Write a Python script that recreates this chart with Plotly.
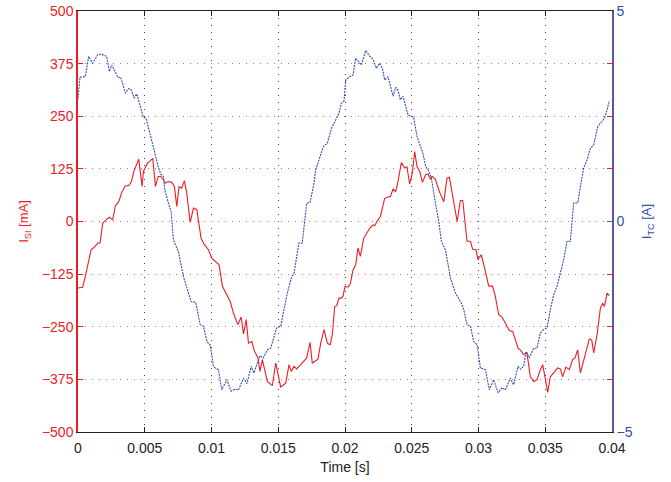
import plotly.graph_objects as go

# ---- data ----
t_si = [0, 0.00035, 0.0006, 0.00098, 0.00123, 0.00148, 0.00165, 0.00185, 0.0021, 0.00235,
        0.0026, 0.0028, 0.00305, 0.0033, 0.00355, 0.0038, 0.004, 0.0042, 0.00455, 0.0048,
        0.0049, 0.0052, 0.0056, 0.0058, 0.006, 0.0062, 0.0064,
        0.00652, 0.00677, 0.00702, 0.00722, 0.0074, 0.00757, 0.00777, 0.00797, 0.00815, 0.0084,
        0.00865, 0.0089, 0.00922, 0.00947, 0.00977, 0.01002, 0.01027, 0.01057, 0.01082, 0.01107,
        0.0114, 0.01165, 0.01197, 0.01222, 0.0124, 0.0126, 0.01277, 0.01302,
        0.01318, 0.01348, 0.01363, 0.01381, 0.01418, 0.01456, 0.01481, 0.01518, 0.01556, 0.01581,
        0.01598, 0.01618, 0.01638, 0.01668, 0.01693, 0.01713, 0.01738, 0.01755, 0.01798, 0.01818,
        0.01843, 0.01868, 0.01888, 0.01905, 0.01923, 0.01938, 0.01955, 0.01973,
        0.01985, 0.0200, 0.02022, 0.0204, 0.0206, 0.0208, 0.02097, 0.02115, 0.0214, 0.0217,
        0.02185, 0.0221, 0.02222, 0.02247, 0.02265, 0.0228, 0.02297, 0.02322, 0.0234, 0.0236,
        0.0238, 0.02397, 0.02422, 0.02447, 0.02464, 0.02484, 0.02504, 0.02522, 0.0254, 0.0256,
        0.0258, 0.02604, 0.02622, 0.0264,
        0.02652, 0.02677, 0.02707, 0.0274, 0.02764, 0.02782, 0.02807, 0.0284, 0.02864, 0.02882,
        0.02914, 0.0294, 0.02956, 0.02981, 0.02996, 0.0302, 0.03046, 0.03076, 0.03106, 0.03126,
        0.03151, 0.03176, 0.03201, 0.03231, 0.03256, 0.03276, 0.03296, 0.03316,
        0.03338, 0.03363, 0.03388, 0.03413, 0.03438, 0.03463, 0.03481, 0.03498, 0.03518, 0.03538,
        0.03568, 0.03593, 0.03613, 0.0363, 0.03655, 0.0368, 0.03705, 0.03723, 0.03743, 0.03763,
        0.03793, 0.0383, 0.03848, 0.03863, 0.03888, 0.03913, 0.0393, 0.03943, 0.03963, 0.0398]
i_si = [-158, -156, -123, -67, -61, -51, -51, -4, 4, 10,
        4, 37, 47, 71, 85, 85, 95, 121, 148, 83,
        119, 138, 150, 83, 107, 107, 99,
        91, 95, 93, 83, 36, 83, 79, 97, 67, -2,
        32, 28, -40, -55, -67, -87, -95, -103, -154, -170,
        -190, -218, -245, -227, -267, -233, -289, -285,
        -305, -324, -356, -328, -380, -390, -336, -393, -384, -340,
        -356, -344, -350, -340, -332, -324, -287, -336, -327, -289,
        -257, -289, -293, -269, -202, -200, -182, -182,
        -178, -154, -156, -148, -115, -103, -63, -83, -40, -24,
        -16, -8, -10, 4, 12, 32, 55, 58, 59, 77,
        71, 95, 140, 127, 130, 89, 115, 166, 130, 119,
        93, 111, 113, 100,
        107, 100, 71, 47, 103, 105, 55, 0, 50, 50,
        -47, -47, -66, -67, -91, -79, -111, -153, -154, -178,
        -221, -227, -241, -259, -261, -281, -301, -306,
        -316, -312, -368, -380, -376, -352, -340, -369, -406, -369,
        -358, -348, -350, -369, -346, -352, -328, -324, -305, -360,
        -324, -279, -281, -312, -269, -206, -194, -202, -170, -176]

t_tc = [0, 0.00015, 0.00055, 0.0008, 0.0011, 0.00148, 0.00173, 0.00215, 0.00235, 0.00253,
        0.003, 0.0032, 0.00355, 0.0038, 0.004, 0.0042, 0.0044, 0.0047, 0.0049, 0.0051,
        0.0054, 0.0057, 0.006, 0.0062, 0.0064, 0.0065,
        0.00677, 0.00697, 0.00715, 0.00752, 0.0079, 0.00815, 0.00847, 0.00882, 0.00915, 0.0094,
        0.00965, 0.0099, 0.01015, 0.01027, 0.01052, 0.01077, 0.01115, 0.01147, 0.01177, 0.01202,
        0.0124, 0.01265, 0.01297, 0.01317,
        0.01343, 0.01363, 0.01388, 0.01418, 0.01443, 0.01468, 0.01488, 0.01518, 0.01538, 0.01568,
        0.01598, 0.01618, 0.01655, 0.0168, 0.01713, 0.01738, 0.01768, 0.0178, 0.01813, 0.01838,
        0.01868, 0.01898, 0.0193, 0.01955, 0.01973, 0.01993,
        0.02005, 0.02035, 0.0206, 0.0208, 0.02122, 0.02155, 0.02185, 0.0221, 0.02235, 0.0226,
        0.0228, 0.02297, 0.02322, 0.0236, 0.0238, 0.02397, 0.02415, 0.02434, 0.02472, 0.02497,
        0.02514, 0.02539, 0.02564, 0.02584, 0.02604, 0.02629, 0.02647,
        0.02665, 0.02677, 0.02702, 0.02722, 0.02752, 0.0279, 0.02827, 0.02872, 0.0289, 0.02914,
        0.0294, 0.02964, 0.0299, 0.03014, 0.03052, 0.03081, 0.03114, 0.03146, 0.03176, 0.03201,
        0.03238, 0.03263, 0.03296, 0.03316,
        0.03338, 0.03356, 0.03381, 0.03413, 0.03438, 0.03463, 0.03488, 0.03513, 0.03538, 0.03563,
        0.03588, 0.03613, 0.03638, 0.03663, 0.03688, 0.03713, 0.03743, 0.03768, 0.03788, 0.03813,
        0.03838, 0.03863, 0.03893, 0.03923, 0.03943, 0.03963, 0.0398]
i_tc = [2.93, 3.43, 3.44, 3.92, 3.76, 3.96, 3.98, 3.92, 3.56, 3.72,
        3.42, 3.43, 3.05, 3.16, 3.12, 2.93, 3.03, 2.69, 2.48, 2.45,
        2.10, 1.70, 1.31, 1.12, 1.07, 0.75,
        0.44, 0.24, -0.44, -0.71, -1.31, -1.58, -1.90, -1.92, -2.45, -2.49,
        -2.85, -2.93, -3.44, -3.48, -3.52, -4.0, -3.76, -4.03, -3.98, -4.0,
        -3.72, -3.85, -3.44, -3.60,
        -3.36, -3.19, -3.24, -3.05, -3.01, -2.73, -2.53, -2.49, -2.14, -1.70,
        -1.34, -1.23, -0.51, -0.51, 0.44, 0.45, 0.91, 1.23, 1.54, 1.78,
        1.86, 2.21, 2.41, 2.57, 2.81, 2.87,
        3.36, 3.44, 3.48, 3.88, 3.72, 4.06, 3.93, 3.85, 3.64, 3.76,
        3.64, 3.36, 3.44, 2.98, 3.19, 3.11, 2.89, 2.98, 2.53, 2.49,
        2.48, 2.02, 1.78, 1.62, 1.31, 1.19, 1.03,
        0.6, 0.44, 0.0, -0.47, -0.67, -1.34, -1.70, -1.94, -2.10, -2.45,
        -2.49, -2.85, -2.93, -3.48, -3.52, -4.0, -3.76, -4.07, -3.95, -4.0,
        -3.72, -3.88, -3.44, -3.51,
        -3.44, -3.09, -3.24, -3.01, -3.01, -2.65, -2.57, -2.53, -2.10, -1.74,
        -1.54, -1.23, -0.91, -0.47, -0.47, 0.44, 0.44, 0.91, 1.27, 1.46,
        1.74, 1.82, 2.25, 2.37, 2.45, 2.65, 2.87]

x_ticks = [0, 0.005, 0.01, 0.015, 0.02, 0.025, 0.03, 0.035, 0.04]
x_ticklabels = ["0", "0.005", "0.01", "0.015", "0.02", "0.025", "0.03", "0.035", "0.04"]
y1_ticks = [-500, -375, -250, -125, 0, 125, 250, 375, 500]
y2_ticks = [-5, 0, 5]

RED = "#ee1c24"
BLUE = "#2e4fa8"
FONT = "Liberation Sans, Arial, sans-serif"

fig = go.Figure()
fig.add_trace(go.Scatter(x=t_si, y=i_si, mode="lines", line=dict(color=RED, width=1.1),
                         yaxis="y", showlegend=False))
fig.add_trace(go.Scatter(x=t_tc, y=i_tc, mode="lines", line=dict(color=BLUE, width=1.1, dash="2px,1px"),
                         yaxis="y2", showlegend=False))

fig.update_layout(
    width=671, height=482,
    margin=dict(l=78, r=59, t=11, b=50, autoexpand=False),
    paper_bgcolor="white", plot_bgcolor="white",
    font=dict(family=FONT, size=14, color="#222222"),
    xaxis=dict(range=[0, 0.04], tickvals=x_ticks, ticktext=x_ticklabels,
               showline=True, linecolor="#222222", linewidth=1, mirror="ticks",
               ticks="inside", ticklen=5, tickcolor="#222222", ticklabelstandoff=3,
               showgrid=True, gridcolor="#444444", griddash="1px,6px", gridwidth=1,
               zeroline=False, tickfont=dict(size=14, color="#222222"), automargin=False,
               title=dict(text="Time [s]", font=dict(size=14, color="#222222"), standoff=7)),
    yaxis=dict(range=[-500, 500], tickvals=y1_ticks,
               showline=True, linecolor=RED, linewidth=1.5, mirror="ticks",
               ticks="inside", ticklen=5, tickcolor=RED,
               showgrid=True, gridcolor="#f06060", griddash="1px,6px", gridwidth=1,
               zeroline=False, tickfont=dict(size=14, color=RED), automargin=False,
               title=dict(text="I<sub>SI</sub> [mA]", font=dict(size=13, color=RED), standoff=10)),
    yaxis2=dict(range=[-5, 5], tickvals=y2_ticks, overlaying="y", side="right",
                showline=True, linecolor="#5a57a0", linewidth=1.5,
                ticks="inside", ticklen=5, tickcolor="#5a57a0",
                showgrid=False, zeroline=False, tickfont=dict(size=14, color=BLUE), automargin=False,
                title=dict(text="I<sub>TC</sub> [A]", font=dict(size=13, color=BLUE), standoff=10)),
)

fig.write_html("out.html", config={"displayModeBar": False},
               post_script="document.body.style.margin='0';document.body.style.padding='0';")
